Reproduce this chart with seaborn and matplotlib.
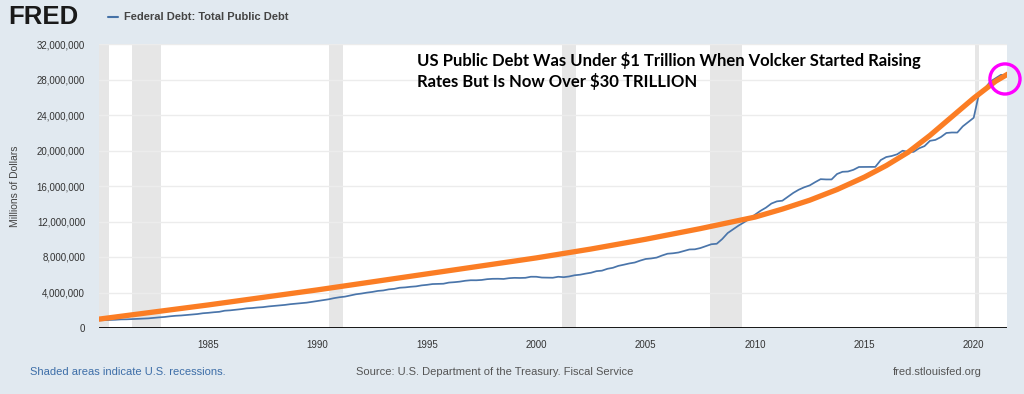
import numpy as np
import pandas as pd
import matplotlib.pyplot as plt
import seaborn as sns

# quarterly total public debt, millions of dollars, 1980Q1 - 2021Q3
debt = [
    863000, 884000, 908000, 930000,
    971000, 977000, 998000, 1028000,
    1061000, 1084000, 1143000, 1197000,
    1245000, 1319000, 1377000, 1410000,
    1464000, 1518000, 1573000, 1663000,
    1710000, 1775000, 1824000, 1950000,
    1991000, 2059000, 2125000, 2214000,
    2250000, 2310000, 2350000, 2431000,
    2488000, 2547000, 2602000, 2684000,
    2740000, 2799000, 2857000, 2953000,
    3052000, 3143000, 3233000, 3365000,
    3466000, 3538000, 3665000, 3801000,
    3881000, 3985000, 4065000, 4177000,
    4231000, 4352000, 4411000, 4536000,
    4576000, 4645000, 4693000, 4801000,
    4864000, 4951000, 4974000, 4989000,
    5118000, 5162000, 5225000, 5323000,
    5381000, 5377000, 5413000, 5502000,
    5542000, 5548000, 5526000, 5614000,
    5651000, 5638000, 5656000, 5776000,
    5773000, 5686000, 5674000, 5662000,
    5773000, 5726000, 5807000, 5943000,
    6006000, 6126000, 6228000, 6405000,
    6460000, 6670000, 6783000, 7001000,
    7131000, 7274000, 7379000, 7596000,
    7777000, 7836000, 7933000, 8170000,
    8371000, 8420000, 8507000, 8680000,
    8849000, 8867000, 9008000, 9229000,
    9437000, 9492000, 10024000, 10700000,
    11127000, 11545000, 11910000, 12311000,
    12773000, 13202000, 13562000, 14025000,
    14270000, 14343000, 14790000, 15223000,
    15582000, 15856000, 16066000, 16433000,
    16771000, 16738000, 16738000, 17352000,
    17601000, 17633000, 17824000, 18141000,
    18152000, 18152000, 18153000, 18922000,
    19264000, 19381000, 19573000, 19977000,
    19846000, 19845000, 20245000, 20493000,
    21090000, 21195000, 21516000, 21974000,
    22028000, 22023000, 22719000, 23201000,
    23687000, 26477000, 26945000, 27748000,
    28133000, 28529000, 28428000,
]
quarters = pd.period_range('1980Q1', periods=len(debt), freq='Q')
debt_year = quarters.year + (quarters.quarter - 1) / 4

# hand drawn orange trend
trend_year = [1980.0, 1982.5, 1985.0, 1987.5, 1990.0, 1992.5, 1995.0, 1997.5,
              2000.0, 2002.5, 2005.0, 2007.5, 2010.0, 2011.25, 2012.5, 2013.75,
              2015.0, 2016.0, 2017.0, 2018.0, 2019.0, 2020.0, 2021.0, 2021.55]
trend_val = [1.0e6, 1.8e6, 2.6e6, 3.45e6, 4.3e6, 5.2e6, 6.1e6, 7.0e6,
             7.9e6, 8.9e6, 10.0e6, 11.2e6, 12.5e6, 13.4e6, 14.4e6, 15.6e6,
             17.0e6, 18.3e6, 19.8e6, 21.7e6, 23.8e6, 25.9e6, 27.8e6, 28.6e6]

recession_start = [1980.0, 1981.5, 1990.5, 2001.17, 2007.92, 2020.08]
recession_end = [1980.46, 1982.83, 1991.17, 2001.83, 2009.42, 2020.25]

x_ticks = [1985, 1990, 1995, 2000, 2005, 2010, 2015, 2020]
y_ticks = list(range(0, 32000001, 4000000))

bg = '#e1e9f0'
sns.set_style('white')
plt.rcParams['font.family'] = ['Liberation Sans', 'DejaVu Sans']

fig = plt.figure(figsize=(10.24, 3.94), dpi=100, facecolor=bg)
ax = fig.add_axes([99 / 1024, 1 - 328 / 394, 907.5 / 1024, 284 / 394])
ax.set_facecolor('white')

for s, e in zip(recession_start, recession_end):
    ax.axvspan(s, e, color='#e6e6e6', lw=0, zorder=0)

for t in y_ticks[1:]:
    ax.axhline(t, color='#ececec', lw=1, zorder=0.5)

sns.lineplot(x=debt_year, y=debt, ax=ax, color='#4a75aa', lw=1.25, zorder=3)
sns.lineplot(x=trend_year, y=trend_val, ax=ax, color='#fb7d24', lw=3.8,
             zorder=4, solid_capstyle='round')
ax.scatter([2021.43], [28.06e6], s=470, facecolors='none', edgecolors='#ff00ff',
           linewidths=2.4, zorder=5, clip_on=False)

ax.axhline(0, color='black', lw=2, zorder=6)
ax.set_xlim(1980.0, 2021.5)
ax.set_ylim(0, 32000000)
ax.set_xticks(x_ticks)
ax.set_yticks(y_ticks)
ax.set_yticklabels([f'{v:,}' for v in y_ticks])
ax.tick_params(axis='x', length=4, color='#cccccc', labelsize=7, labelcolor='#333333', pad=5)
ax.tick_params(axis='y', length=0, labelsize=7, labelcolor='#333333', pad=10)
for sp in ax.spines.values():
    sp.set_visible(False)
ax.set_xlabel('')
ax.set_ylabel('Millions of Dollars', fontsize=7.5, color='#444444', labelpad=12)

ax.text(417, 394 - 52, 'US Public Debt Was Under $1 Trillion When Volcker Started Raising\n'
        'Rates But Is Now Over $30 TRILLION', transform=None, fontsize=12,
        fontweight='bold', family=['Lato', 'DejaVu Sans'], color='black',
        va='top', ha='left', linespacing=1.3)

# header
fig.text(8 / 1024, 1 - 17 / 394, 'FRED', fontsize=18.5, fontweight='bold', color='#1a1a1a',
         va='center', ha='left')
fig.add_artist(plt.Line2D([108 / 1024, 118 / 1024], [1 - 17 / 394, 1 - 17 / 394],
                          color='#4572a7', lw=1.5))
fig.text(124 / 1024, 1 - 17 / 394, 'Federal Debt: Total Public Debt', fontsize=8,
         fontweight='bold', color='#444444', va='center', ha='left')

# footer
fig.text(30 / 1024, 1 - 372 / 394, 'Shaded areas indicate U.S. recessions.', fontsize=8,
         color='#3d6ea8', va='center', ha='left')
fig.text(356 / 1024, 1 - 372 / 394, 'Source: U.S. Department of the Treasury. Fiscal Service',
         fontsize=8, color='#555555', va='center', ha='left')
fig.text(982 / 1024, 1 - 372 / 394, 'fred.stlouisfed.org', fontsize=8, color='#555555',
         va='center', ha='right')

fig.savefig('out.png', dpi=100, facecolor=bg)
